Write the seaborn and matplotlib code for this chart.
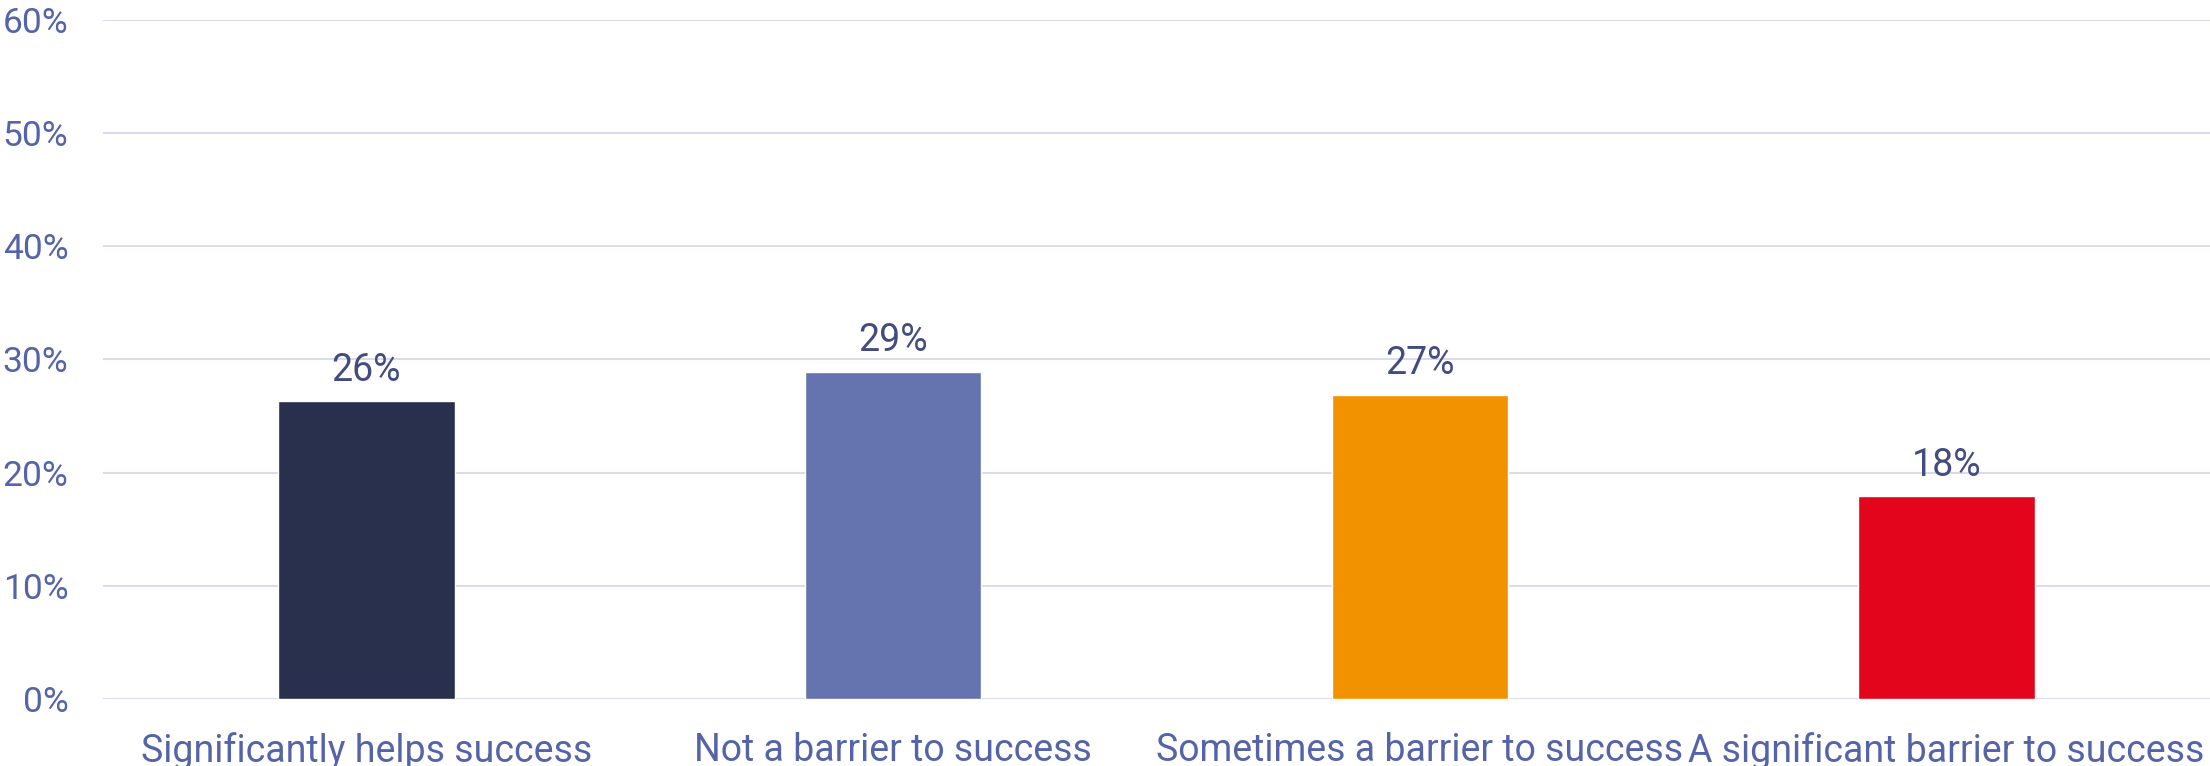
import matplotlib
matplotlib.use("Agg")
import matplotlib.pyplot as plt
import seaborn as sns
import pandas as pd

# data
categories = ["Significantly helps success", "Not a barrier to success",
              "Sometimes a barrier to success", "A significant barrier to success"]
values = [26.3, 28.9, 26.9, 17.9]
value_labels = ["26%", "29%", "27%", "18%"]
colors = ["#29304D", "#6574AE", "#F39200", "#E3051C"]
yticks = [0, 10, 20, 30, 40, 50, 60]

sns.set_style("white")
plt.rcParams["font.family"] = ["Roboto", "DejaVu Sans"]

df = pd.DataFrame({"cat": categories, "val": values})

fig = plt.figure(figsize=(22.1, 7.66), dpi=100)
ax = fig.add_axes([0.0466, 0.0875, 0.9534, 0.8865])

sns.barplot(data=df, x="cat", y="val", hue="cat", palette=colors,
            width=0.335, legend=False, saturation=1, ax=ax)

ax.set_ylim(0, 60)
ax.set_xlim(-0.5, 3.5)
ax.set_yticks(yticks)
ax.set_yticklabels([f"{t}%" for t in yticks])
ax.yaxis.grid(True, color="#D9DCEE", linewidth=1.4)
ax.set_axisbelow(True)
for s in ax.spines.values():
    s.set_visible(False)

ax.tick_params(axis="y", length=0, pad=25, labelsize=25.5, labelcolor="#5564A8")
ax.tick_params(axis="x", length=0, pad=24, labelsize=27, labelcolor="#5564A8")
ax.set_xlabel("")
ax.set_ylabel("")

for cont, lab in zip(ax.containers, value_labels):
    ax.bar_label(cont, labels=[lab], padding=9, fontsize=27, color="#434C80")

fig.savefig("out.png", dpi=100)
